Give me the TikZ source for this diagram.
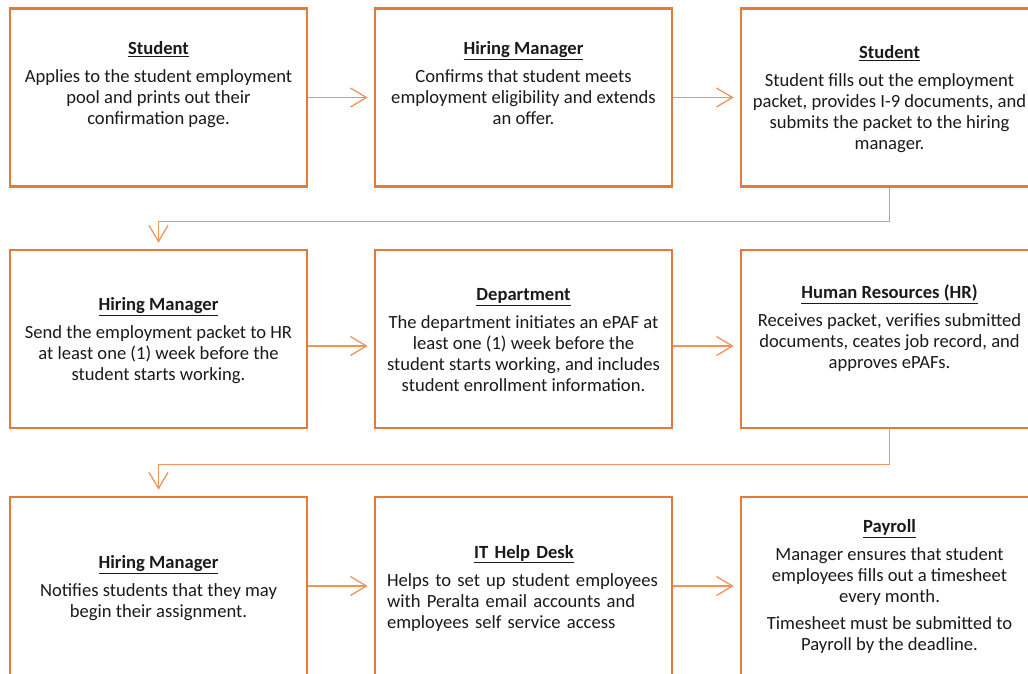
\documentclass[tikz,border=0pt]{standalone}
\usepackage{fontspec}
\setmainfont{Carlito}
\usetikzlibrary{arrows.meta}
\definecolor{boxc}{HTML}{E57A38}
\definecolor{arrc}{HTML}{F0945A}
\definecolor{txtc}{HTML}{1A1A1A}
\begin{document}
\begin{tikzpicture}[x=1pt,y=-1pt,
  stepbox/.style={draw=boxc,line width=2.6pt,minimum width=297pt,minimum height=178pt,inner sep=0pt},
  txt/.style={align=center,inner sep=0pt,anchor=north,text=txtc,font=\fontsize{18.6}{21}\selectfont},
  arr/.style={draw=arrc,line width=1.3pt,-{Straight Barb[length=16pt,width=19pt]},shorten >=6pt}]
\useasboundingbox (0,0) rectangle (1028,673);
\clip (0,0) rectangle (1028,673);
% boxes
\node[stepbox] (b1) at (158.5,97.5) {};
\node[stepbox] (b2) at (523.5,97.5) {};
\node[stepbox] (b3) at (889.5,97.5) {};
\node[stepbox] (b4) at (158.5,339) {};
\node[stepbox] (b5) at (523.5,339) {};
\node[stepbox] (b6) at (889.5,339) {};
\node[stepbox] (b7) at (158.5,586) {};
\node[stepbox] (b8) at (523.5,586) {};
\node[stepbox] (b9) at (889.5,586) {};
% texts
\newcommand{\hd}[1]{\underline{\textbf{#1}}}
\node[txt] (t1) at (158.5,41.5) {\hd{Student}\\[7pt]Applies to the student employment\\pool and prints out their\\confirmation page.};
\node[txt] (t2) at (523.5,41.5) {\hd{Hiring Manager}\\[7pt]Confirms that student meets\\employment eligibility and extends\\an offer.};
\node[txt] (t3) at (889.5,45.5) {\hd{Student}\\[7pt]Student fills out the employment\\packet, provides I-9 documents, and\\submits the packet to the hiring\\manager.};
\node[txt] (t4) at (158.5,297.5) {\hd{Hiring Manager}\\[7pt]Send the employment packet to HR\\at least one (1) week before the\\student starts working.};
\node[txt] (t5) at (523.5,288.5) {\hd{Department}\\[7pt]The department initiates an ePAF at\\least one (1) week before the\\student starts working, and includes\\student enrollment information.};
\node[txt] (t6) at (889.5,284.5) {\hd{Human Resources (HR)}\\[7pt]Receives packet, verifies submitted\\documents, ceates job record, and\\approves ePAFs.};
\node[txt] (t7) at (158.5,555.5) {\hd{Hiring Manager}\\[7pt]Notifies students that they may\\begin their assignment.};
\node[txt,text width=274pt,align=left] (t8) at (524,545) {{\centering\hd{IT Help Desk}\par}\vspace{7pt}Helps to set up student employees\\with Peralta email accounts and\\employees self service access};
\node[txt] (t9) at (889.5,519.5) {\hd{Payroll}\\[7pt]Manager ensures that student\\employees fills out a timesheet\\every month.\\[6pt]Timesheet must be submitted to\\Payroll by the deadline.};
% connectors
\draw[arr] (b1.east) -- (b2.west);
\draw[arr] (b2.east) -- (b3.west);
\draw[arr] (b3.south) -- ++(0,34) -| (b4.north);
\draw[arr] ([yshift=-7pt]b4.east) -- ([yshift=-7pt]b5.west);
\draw[arr] ([yshift=-7pt]b5.east) -- ([yshift=-7pt]b6.west);
\draw[arr] (b6.south) -- ++(0,35) -| (b7.north);
\draw[arr] (b7.east) -- (b8.west);
\draw[arr] (b8.east) -- (b9.west);
\end{tikzpicture}
\end{document}
